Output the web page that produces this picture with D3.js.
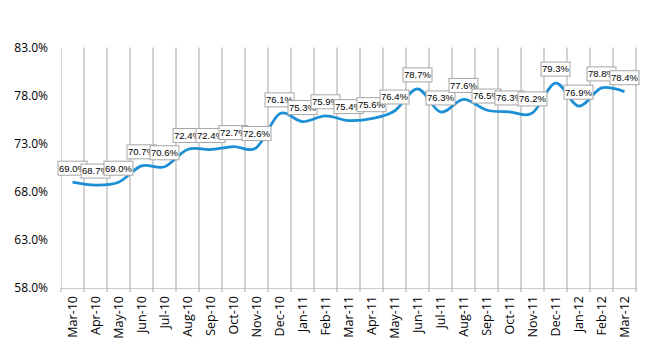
<!DOCTYPE html>
<html><head><meta charset="utf-8">
<script src="https://cdn.jsdelivr.net/npm/d3@7"></script>
<style>body{margin:0;background:#fff;} svg{display:block;}</style>
</head><body>
<svg id="chart" width="650" height="350"></svg>
<script>
const categories = ["Mar-10","Apr-10","May-10","Jun-10","Jul-10","Aug-10","Sep-10","Oct-10","Nov-10","Dec-10","Jan-11","Feb-11","Mar-11","Apr-11","May-11","Jun-11","Jul-11","Aug-11","Sep-11","Oct-11","Nov-11","Dec-11","Jan-12","Feb-12","Mar-12"];
const values = [69.0,68.7,69.0,70.7,70.6,72.4,72.4,72.7,72.6,76.1,75.3,75.9,75.4,75.6,76.4,78.7,76.3,77.6,76.5,76.3,76.2,79.3,76.9,78.8,78.4];
const yTicks = [58,63,68,73,78,83];

(function () {
const svg = d3.select("#chart");
const mLeft = 61, mRight = 636, mTop = 47.5, mBottom = 288;
const x = d3.scaleBand().domain(categories).range([mLeft, mRight]).padding(0);
const y = d3.scaleLinear().domain([58, 83]).range([mBottom, mTop]);

const bounds = categories.map(c => x(c)).concat([mRight]).slice(1);
svg.append("g").selectAll("line").data(bounds).join("line")
  .attr("x1", d => d).attr("x2", d => d).attr("y1", mTop).attr("y2", mBottom)
  .attr("stroke", "#d3d3d3").attr("stroke-width", 2);

const yAxis = d3.axisLeft(y).tickValues(yTicks).tickSize(0).tickPadding(13).tickFormat(d => d.toFixed(1) + "%");
const gy = svg.append("g").attr("transform", `translate(${mLeft},0)`).call(yAxis);
gy.select(".domain").attr("stroke", "#aaa").attr("stroke-dasharray", "1,1");
gy.selectAll("text").attr("font-family", "Open Sans, sans-serif").attr("font-size", 12).attr("fill", "#000");

const xAxis = d3.axisBottom(x).tickSize(0).tickPadding(0);
const gx = svg.append("g").attr("transform", `translate(0,${mBottom})`).call(xAxis);
gx.select(".domain").attr("stroke", "#999").attr("stroke-dasharray", "1,1");
gx.selectAll("text")
  .attr("font-family", "Open Sans, sans-serif").attr("font-size", 12.5).attr("fill", "#000")
  .attr("transform", "rotate(-90)").attr("text-anchor", "end")
  .attr("x", -8).attr("y", 0).attr("dy", "0.35em");
svg.append("g").selectAll("line").data([mLeft].concat(bounds)).join("line")
  .attr("x1", d => d).attr("x2", d => d).attr("y1", mBottom).attr("y2", mBottom + 4)
  .attr("stroke", "#aaa").attr("stroke-width", 1);

const line = d3.line().x((d, i) => x(categories[i]) + x.bandwidth() / 2).y(d => y(d))
  .curve(d3.curveCatmullRom.alpha(0));
svg.append("path").datum(values).attr("d", line)
  .attr("fill", "none").attr("stroke", "#1b8fd6").attr("stroke-width", 2.75);

const lg = svg.append("g");
values.forEach((v, i) => {
  const cx = x(categories[i]) + x.bandwidth() / 2;
  const by = y(v) - 7;
  const g = lg.append("g");
  const w = 29, h = 14;
  g.append("rect").attr("x", cx - w / 2).attr("y", by - h).attr("width", w).attr("height", h)
    .attr("fill", "#fff").attr("stroke", "#a6a6a6").attr("stroke-width", 1);
  g.append("text").attr("x", cx).attr("y", by - h / 2).attr("dy", "0.35em")
    .attr("text-anchor", "middle").attr("font-family", "Liberation Sans, Arial, sans-serif")
    .attr("font-size", 9.5).attr("fill", "#000").text(v.toFixed(1) + "%");
});
})();
</script>
</body></html>
